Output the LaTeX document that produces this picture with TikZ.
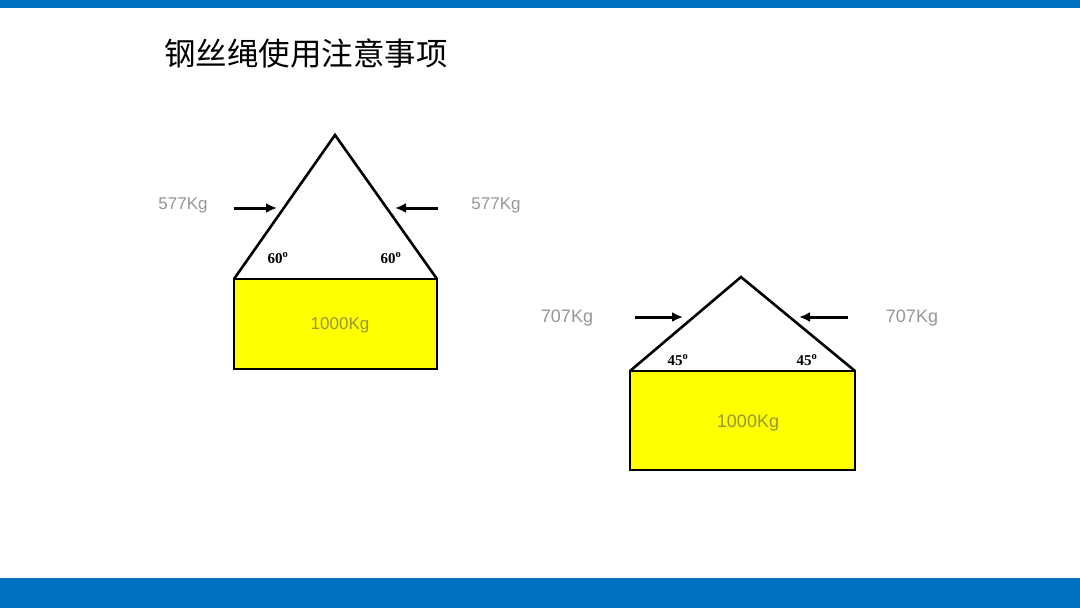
\documentclass[tikz,border=0pt]{standalone}
\usepackage{fontspec}
\setmainfont{Liberation Sans}
\newfontfamily\cjk{Noto Sans CJK SC}
\newfontfamily\tnr{Liberation Serif}
\usetikzlibrary{arrows.meta}
\definecolor{barblue}{RGB}{0,112,192}
\definecolor{lblgray}{RGB}{150,150,150}
\definecolor{boxtext}{RGB}{150,150,60}
\definecolor{boxyellow}{RGB}{255,255,0}
\tikzset{
  shape line/.style={draw=black, line width=2.6pt, line join=miter},
  force/.style={line width=3pt, -{Latex[length=11pt,width=10pt]}},
  kg/.style={text=lblgray, font=\fontsize{17}{20}\selectfont, inner sep=0pt},
  kgbig/.style={kg, font=\fontsize{18}{21}\selectfont},
  ang/.style={font=\tnr\bfseries\fontsize{15}{17}\selectfont, inner sep=0pt},
}
\begin{document}
\begin{tikzpicture}[x=1pt,y=-1pt]
\useasboundingbox (0,0) rectangle (1080,608);
\fill[white] (0,0) rectangle (1080,608);
\fill[barblue] (0,0) rectangle (1080,8);
\fill[barblue] (0,578) rectangle (1080,608);
\node[anchor=west, inner sep=0pt, font=\cjk\fontsize{31.5}{34}\selectfont] (title) at (164,53) {钢丝绳使用注意事项};

% left figure
\coordinate (LA) at (335,135);
\coordinate (LL) at (234,279);
\coordinate (LR) at (437,279);
\draw[shape line, fill=boxyellow] (234,279) rectangle (437,369);
\node[kg, text=boxtext] (lbox) at (340,325) {1000Kg};
\draw[shape line] (LL) -- (LA) -- (LR);
\coordinate (la1) at (234,208);
\coordinate (la2) at (277,208);
\coordinate (ra1) at (438,208);
\coordinate (ra2) at (395,208);
\draw[force] (la1) -- (la2);
\draw[force] (ra1) -- (ra2);
\node[kg] (l577) at (183,205) {577Kg};
\node[kg] (r577) at (496,205) {577Kg};
\node[ang] (l60a) at (278,258) {60\textsuperscript{o}};
\node[ang] (l60b) at (391,258) {60\textsuperscript{o}};

% right figure
\coordinate (RA) at (741,277);
\coordinate (RL) at (630,371);
\coordinate (RR) at (855,371);
\draw[shape line, fill=boxyellow] (630,371) rectangle (855,470);
\node[kgbig, text=boxtext] (rbox) at (748,423) {1000Kg};
\draw[shape line] (RL) -- (RA) -- (RR);
\coordinate (lb1) at (635,317);
\coordinate (lb2) at (683,317);
\coordinate (rb1) at (848,317);
\coordinate (rb2) at (799,317);
\draw[force] (lb1) -- (lb2);
\draw[force] (rb1) -- (rb2);
\node[kgbig] (l707) at (567,318) {707Kg};
\node[kgbig] (r707) at (912,318) {707Kg};
\node[ang] (r45a) at (678,360) {45\textsuperscript{o}};
\node[ang] (r45b) at (807,360) {45\textsuperscript{o}};
\end{tikzpicture}
\end{document}
